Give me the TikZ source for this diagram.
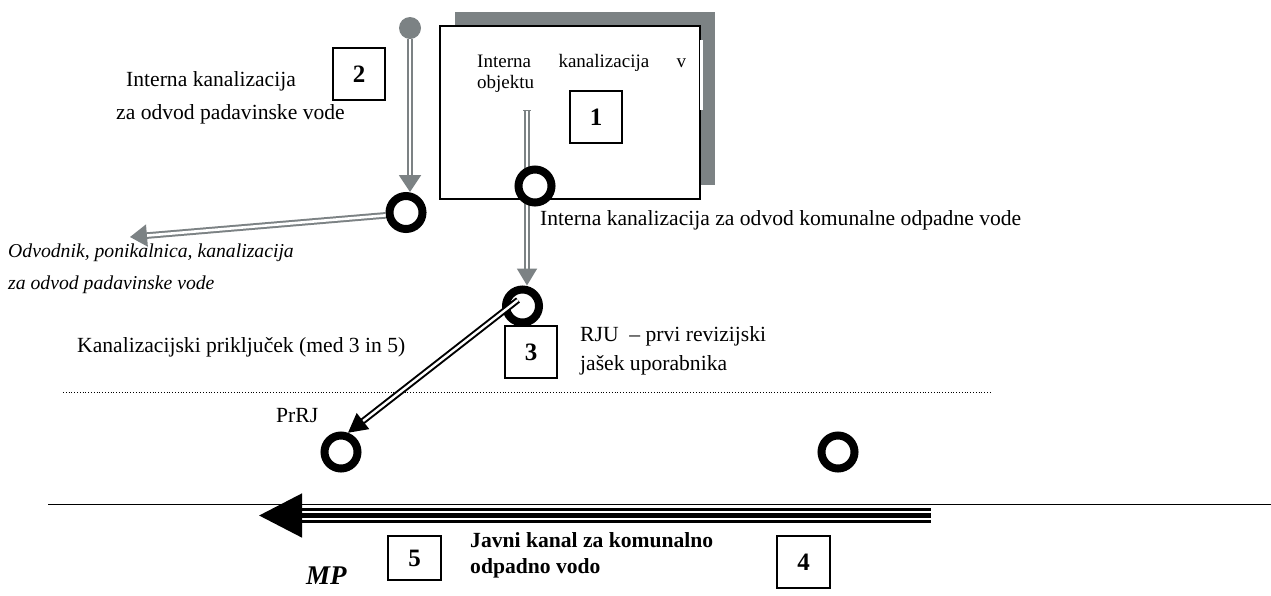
\documentclass[tikz,border=0pt]{standalone}
\usepackage{fontspec}
\setmainfont{Liberation Serif}
\usetikzlibrary{arrows.meta, positioning}

\begin{document}
\begin{tikzpicture}[
  x=1pt, y=-1pt,
  font=\fontsize{21.6}{26}\selectfont,
  lbl/.style={inner sep=0pt, align=left},
  numbox/.style={draw, line width=1.3pt, fill=white, inner sep=0pt, minimum width=52pt, minimum height=52pt, font=\fontsize{25}{28}\selectfont\bfseries},
  ring/.style={circle, draw, line width=8pt, fill=white, minimum size=33pt, inner sep=0pt},
  greypipe/.style={draw=pipegrey, double=white, line width=2pt, double distance=2.6pt, -{Triangle[length=17pt,width=22pt,fill=pipegrey]}},
  blackpipe/.style={draw=black, double=white, line width=2pt, double distance=2.4pt, -{Triangle[length=19pt,width=20pt]}},
  mainout/.style={draw=black, double=white, line width=2.3pt, double distance=9.7pt},
  mainin/.style={line width=5pt, -{Triangle[length=43pt,width=43pt]}}
]
\definecolor{pipegrey}{RGB}{124,130,132}
\useasboundingbox (0,0) rectangle (1271,595);
% building
\node[fill=pipegrey, minimum width=260pt, minimum height=173pt, inner sep=0pt] (shadow) at (585,98.5) {};
\node[draw, line width=1.3pt, fill=white, minimum width=260pt, minimum height=173pt, inner sep=0pt] (house) at (570,112.5) {};
\node[fill=white, minimum width=3pt, minimum height=70pt, inner sep=0pt] (gap) at (701,75) {};
\node[lbl, font=\fontsize{19}{21}\selectfont, text width=209pt, anchor=north west] (t1) at (477,54) {Interna\hfill kanalizacija\hfill v\\objektu};
\node[numbox] (n1) at (596,117) {1};
% roof water
\node[circle, fill=pipegrey, minimum size=22pt, inner sep=0pt] (drop) at (410,28) {};
\node[numbox] (n2) at (359,74) {2};
\node[lbl, anchor=north west] (t2) at (116,71) {\hspace*{10pt}Interna kanalizacija\\[7pt]za odvod padavinske vode};
\node[ring] (c2) at (406,212.5) {};
\coordinate (c2tip) at (130,237);
\draw[greypipe] (drop) -- (drop |- c2.north);
\draw[greypipe] (c2.188) -- (c2tip);
\node[lbl, font=\fontsize{19.7}{24}\selectfont\itshape, anchor=north west] (t3) at (8,244) {Odvodnik, ponikalnica, kanalizacija\\[8pt]za odvod padavinske vode};
% waste water
\coordinate (top1) at (527,110);
\node[ring] (c3) at (522.5,306) {};
\draw[greypipe, {Bar[width=8pt,line width=1pt]}-{Triangle[length=17pt,width=20pt,fill=pipegrey]}] (top1) -- (top1 |- c3.north);
\node[ring] (c1) at (535,186) {};
\node[lbl, anchor=north west] (t4) at (540,210) {Interna kanalizacija za odvod komunalne odpadne vode};
\node[numbox] (n3) at (531,352) {3};
\node[lbl, anchor=north west] (t5) at (580,326) {RJU\ \ – prvi revizijski\\[3pt]jašek uporabnika};
\node[lbl, anchor=north west] (t6) at (77,337) {Kanalizacijski priključek (med 3 in 5)};
% connection
\coordinate (dotL) at (63,392.5);
\coordinate (dotR) at (990,392.5);
\draw[dotted, line width=0.8pt] (dotL) -- (dotR);
\node[ring] (c5) at (341,452) {};
\node[ring] (c4) at (838,452) {};
\node[lbl, anchor=north west] (t7) at (276,408) {PrRJ};
\coordinate (c3in) at (518,300);
\draw[blackpipe] (c3in) -- (c5.70);
% public sewer
\coordinate (lineL) at (48,504.5);
\coordinate (lineR) at (1271,504.5);
\draw[line width=1pt] (lineL) -- (lineR);
\coordinate (mainR) at (930.5,515.5);
\coordinate (mainM) at (290,515.5);
\coordinate (mainL) at (259,515.5);
\draw[mainout] (mainR) -- (mainM);
\draw[mainin] (mainR) -- (mainL);
\node[numbox, minimum width=53pt, minimum height=44pt] (n5) at (414.5,558) {5};
\node[numbox, minimum width=53pt, minimum height=52pt] (n4) at (803.5,562) {4};
\node[lbl, font=\fontsize{21.6}{25.5}\selectfont\bfseries, anchor=north west] (t8) at (470,532.5) {Javni kanal za komunalno\\odpadno vodo};
\node[lbl, font=\fontsize{27}{28}\selectfont\itshape\bfseries, anchor=north west] (t9) at (306,567) {MP};
\end{tikzpicture}
\end{document}
